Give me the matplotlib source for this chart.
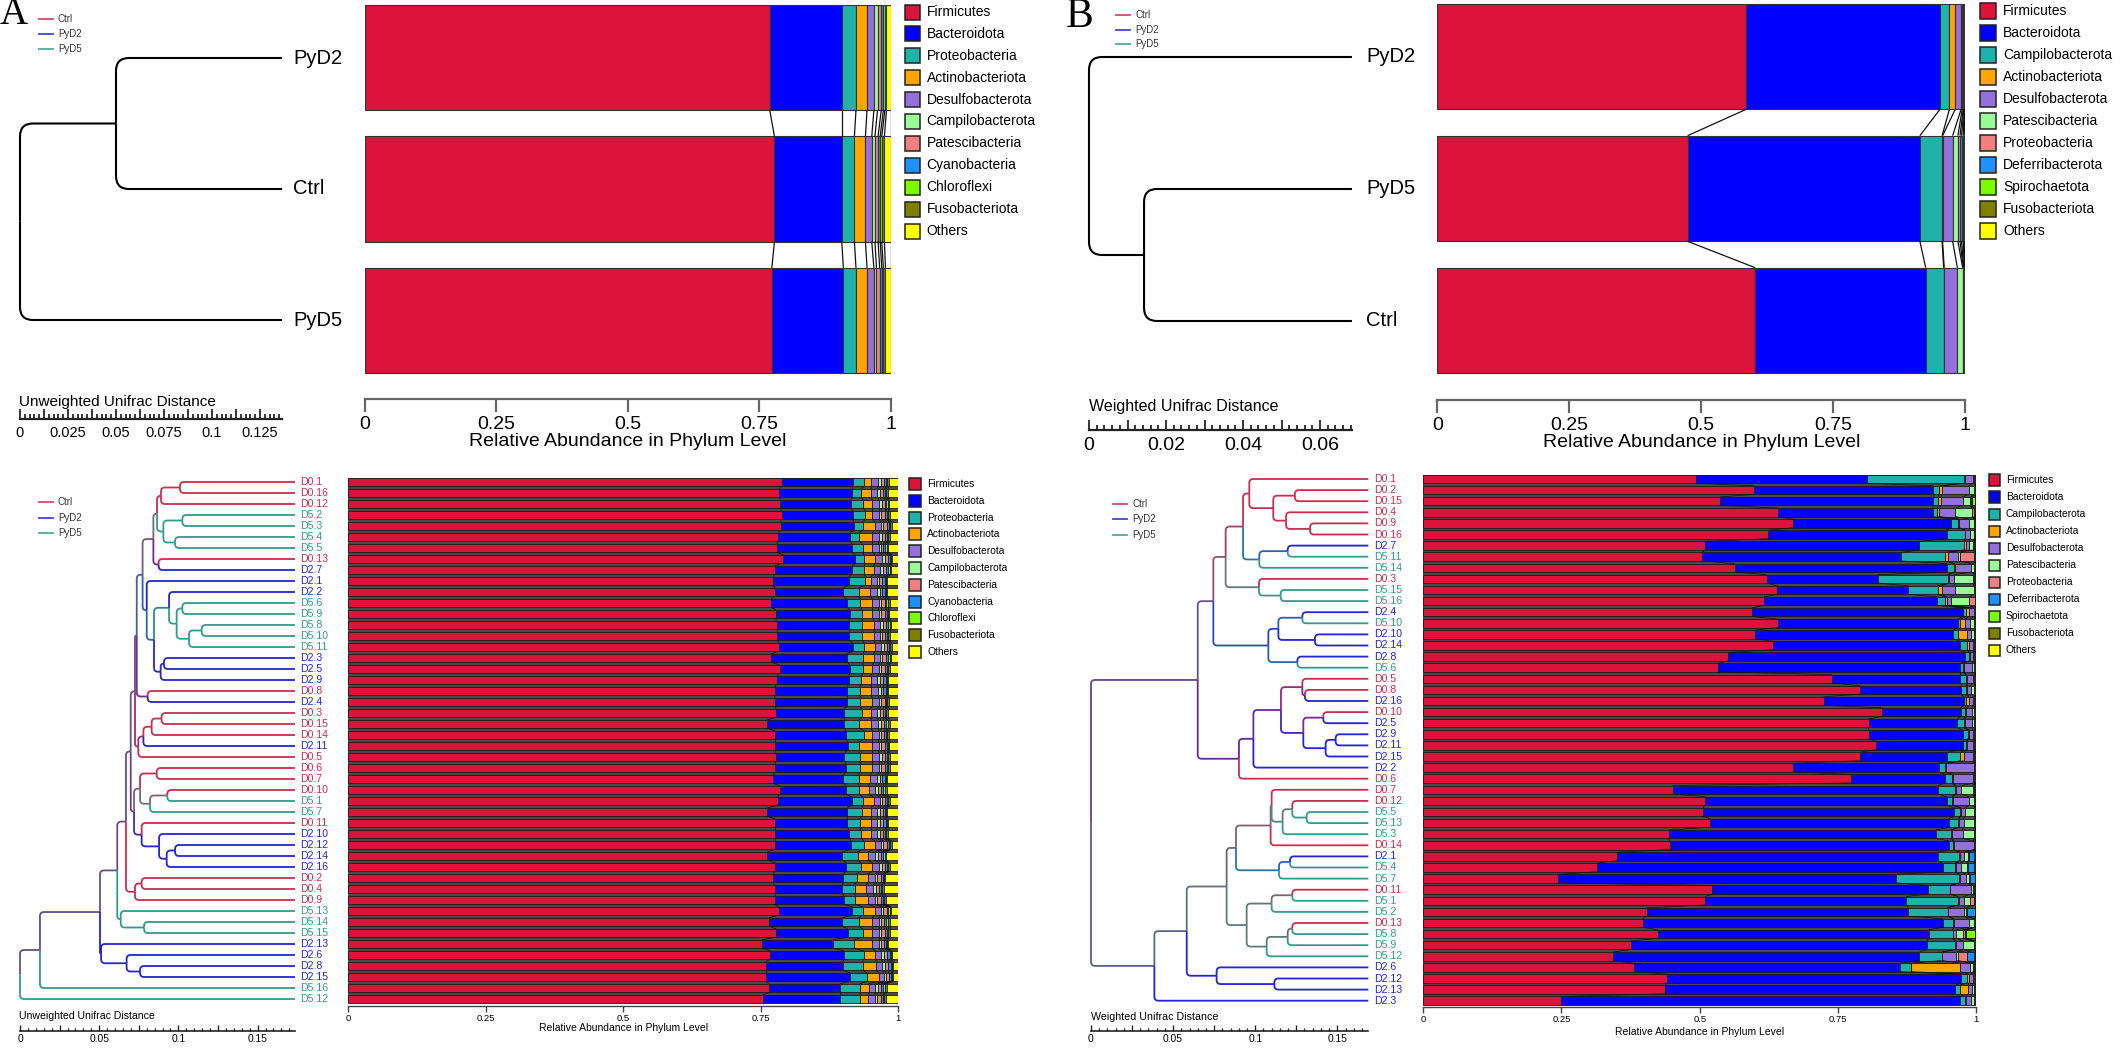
import numpy as np
import matplotlib
matplotlib.use('Agg')
import matplotlib.pyplot as plt
import matplotlib.colors as mcolors
from matplotlib.path import Path
from matplotlib.patches import PathPatch, Rectangle
from matplotlib.lines import Line2D
from matplotlib.collections import LineCollection
from matplotlib.ticker import MultipleLocator, FuncFormatter

plt.rcParams['font.family'] = ['Liberation Sans', 'DejaVu Sans']

# ------------------------- data -------------------------
phyla_a = ['Firmicutes', 'Bacteroidota', 'Proteobacteria', 'Actinobacteriota', 'Desulfobacterota',
           'Campilobacterota', 'Patescibacteria', 'Cyanobacteria', 'Chloroflexi', 'Fusobacteriota', 'Others']
phyla_b = ['Firmicutes', 'Bacteroidota', 'Campilobacterota', 'Actinobacteriota', 'Desulfobacterota',
           'Patescibacteria', 'Proteobacteria', 'Deferribacterota', 'Spirochaetota', 'Fusobacteriota', 'Others']
phylum_colors = ['#DC143C', '#0000FF', '#20B2AA', '#FFA500', '#9370DB', '#98FB98',
                 '#F08080', '#1E90FF', '#7CFC00', '#808000', '#FFFF00']

group_names = ['Ctrl', 'PyD2', 'PyD5']
group_colors = ['#CD2C4E', '#2424D2', '#2E9C8C']

# top A (unweighted, group level)
top_a_tree = [0.0, [0.050, 'PyD2', 'Ctrl'], 'PyD5']
top_a_leaf = 0.1365
top_a_pyd2 = [0.770, 0.137, 0.027, 0.021, 0.013, 0.007, 0.007, 0.004, 0.003, 0.003, 0.008]
top_a_ctrl = [0.779, 0.128, 0.024, 0.021, 0.012, 0.006, 0.006, 0.004, 0.003, 0.005, 0.012]
top_a_pyd5 = [0.774, 0.136, 0.024, 0.021, 0.013, 0.005, 0.006, 0.004, 0.003, 0.004, 0.010]

# top B (weighted, group level)
top_b_tree = [0.0, 'PyD2', [0.0143, 'PyD5', 'Ctrl']]
top_b_leaf = 0.0683
top_b_pyd2 = [0.585, 0.367, 0.018, 0.011, 0.011, 0.002, 0.002, 0.001, 0.001, 0.001, 0.001]
top_b_pyd5 = [0.474, 0.440, 0.042, 0.001, 0.019, 0.010, 0.004, 0.003, 0.003, 0.002, 0.002]
top_b_ctrl = [0.602, 0.323, 0.034, 0.001, 0.025, 0.010, 0.001, 0.001, 0.001, 0.001, 0.001]

# bottom A (unweighted, samples)
bot_a_tree = [0.0,
    [0.0126,
        [0.0505,
            [0.0614,
                [0.0669,
                    [0.0699,
                        [0.0726,
                            [0.0737,
                                [0.0774,
                                    [0.0842,
                                        [0.0865, [0.0890, [0.1010, 'D0.1', 'D0.16'], 'D0.12'],
                                                 [0.0905, [0.1025, 'D5.2', 'D5.3'], [0.0979, 'D5.4', 'D5.5']]],
                                        [0.0875, 'D0.13', 'D2.7']],
                                    [0.0800, 'D2.1',
                                        [0.0846,
                                            [0.0941, 'D2.2', [0.0989, [0.1025, 'D5.6', 'D5.9'],
                                                                      [0.1067, [0.1147, 'D5.8', 'D5.10'], 'D5.11']]],
                                            [0.0888, [0.0909, 'D2.3', 'D2.5'], 'D2.9']]]],
                                [0.0806, 'D0.8', 'D2.4']],
                            [0.0747, [0.0779, [0.0831, [0.0894, 'D0.3', 'D0.15'], 'D0.14'], 'D2.11'], 'D0.5']],
                        [0.0720,
                            [0.0758, [0.0863, 'D0.6', 'D0.7'], [0.0821, [0.0930, 'D0.10', 'D5.1'], 'D5.7']],
                            [0.0768, 'D0.11', [0.0878, 'D2.10', [0.0926, [0.0979, 'D2.12', 'D2.14'], 'D2.16']]]]],
                    [0.0726, [0.0768, 'D0.2', 'D0.4'], 'D0.9']],
                [0.0636, 'D5.13', [0.0783, 'D5.14', 'D5.15']]],
            [0.0512, 'D2.13', [0.0673, 'D2.6', [0.0758, 'D2.8', 'D2.15']]]],
        'D5.16'],
    'D5.12']
bot_a_leaf = 0.1736
bot_a_samples = ['D0.1', 'D0.16', 'D0.12', 'D5.2', 'D5.3', 'D5.4', 'D5.5', 'D0.13', 'D2.7', 'D2.1', 'D2.2', 'D5.6',
                 'D5.9', 'D5.8', 'D5.10', 'D5.11', 'D2.3', 'D2.5', 'D2.9', 'D0.8', 'D2.4', 'D0.3', 'D0.15', 'D0.14',
                 'D2.11', 'D0.5', 'D0.6', 'D0.7', 'D0.10', 'D5.1', 'D5.7', 'D0.11', 'D2.10', 'D2.12', 'D2.14', 'D2.16',
                 'D0.2', 'D0.4', 'D0.9', 'D5.13', 'D5.14', 'D5.15', 'D2.13', 'D2.6', 'D2.8', 'D2.15', 'D5.16', 'D5.12']
a_firm = [.788, .783, .785, .788, .786, .781, .779, .790, .775, .772, .776, .769,
          .777, .779, .779, .783, .769, .784, .779, .776, .775, .778, .762, .776,
          .776, .778, .776, .772, .784, .781, .762, .776, .776, .776, .762, .776,
          .772, .775, .775, .783, .765, .778, .752, .767, .759, .759, .765, .754]
a_bact = [.129, .133, .129, .129, .133, .131, .137, .132, .141, .138, .124, .137,
          .135, .131, .131, .134, .138, .128, .131, .131, .132, .123, .139, .129,
          .132, .124, .129, .128, .121, .134, .145, .131, .134, .138, .136, .129,
          .128, .123, .126, .133, .133, .130, .130, .134, .140, .153, .129, .140]
a_proteo = [.021, .016, .022, .023, .016, .017, .019, .016, .022, .030, .028, .025,
            .022, .024, .024, .021, .029, .024, .022, .023, .023, .033, .028, .033,
            .021, .028, .025, .028, .024, .020, .027, .023, .022, .023, .028, .027,
            .024, .023, .021, .019, .030, .027, .037, .036, .036, .031, .036, .036]
a_actino = [.013, .019, .017, .013, .022, .024, .018, .020, .017, .010, .020, .022,
            .019, .021, .021, .020, .019, .017, .018, .020, .023, .016, .021, .015,
            .024, .023, .023, .020, .017, .020, .016, .020, .018, .020, .019, .021,
            .021, .021, .023, .023, .024, .018, .033, .021, .025, .021, .016, .015]
a_desulfo = [.012, .011, .012, .012, .011, .012, .011, .012, .012, .011, .013, .012,
             .011, .012, .012, .011, .012, .011, .012, .013, .012, .011, .013, .012,
             .011, .012, .012, .013, .012, .011, .012, .012, .011, .012, .013, .012,
             .013, .012, .012, .011, .012, .011, .012, .011, .011, .010, .012, .012]
a_campilo = [.005, .004, .005, .004, .005, .005, .004, .005, .005, .004, .005, .004,
             .005, .005, .004, .005, .004, .005, .005, .005, .004, .005, .005, .004,
             .005, .005, .004, .005, .005, .004, .005, .005, .005, .004, .005, .005,
             .004, .005, .005, .004, .005, .005, .004, .005, .005, .004, .005, .005]
a_pates = [.006, .006, .005, .006, .006, .006, .005, .006, .006, .006, .005, .006,
           .006, .006, .005, .006, .006, .006, .006, .005, .006, .006, .006, .005,
           .006, .006, .006, .005, .006, .006, .005, .006, .006, .006, .006, .005,
           .006, .006, .006, .006, .005, .006, .006, .006, .006, .005, .006, .006]
a_cyano = [.004, .004, .003, .004, .004, .004, .003, .004, .004, .004, .004, .003,
           .004, .004, .004, .003, .004, .004, .004, .004, .003, .004, .004, .004,
           .004, .003, .004, .004, .004, .003, .004, .004, .004, .004, .003, .004,
           .004, .004, .004, .003, .004, .004, .003, .004, .004, .003, .004, .004]
a_chloro = [.002, .002, .003, .002, .002, .002, .003, .002, .002, .002, .002, .003,
            .002, .002, .002, .002, .003, .002, .002, .002, .002, .002, .003, .002,
            .002, .002, .002, .002, .003, .002, .002, .002, .002, .002, .003, .002,
            .002, .002, .002, .002, .003, .002, .002, .002, .002, .002, .003, .002]
a_fuso = [.003, .003, .002, .003, .003, .003, .003, .002, .003, .003, .003, .003,
          .002, .003, .003, .003, .003, .003, .002, .003, .003, .003, .003, .003,
          .002, .003, .003, .003, .003, .003, .002, .003, .003, .003, .003, .003,
          .002, .003, .003, .003, .003, .003, .002, .003, .003, .002, .003, .003]

# bottom B (weighted, samples)
bot_b_tree = [0.0,
    [0.0650,
        [0.0745,
            [0.0820,
                [0.0926,
                    [0.0964, 'D0.1', [0.1110, [0.1242, 'D0.2', 'D0.15'], [0.1188, 'D0.4', [0.1334, 'D0.9', 'D0.16']]]],
                    [0.1025, [0.1198, 'D2.7', 'D5.11'], 'D5.14']],
                [0.1023, 'D0.3', [0.1155, 'D5.15', 'D5.16']]],
            [0.1080, [0.1141, [0.1287, 'D2.4', 'D5.10'], [0.1364, 'D2.10', 'D2.14']], [0.1257, 'D2.8', 'D5.6']]],
        [0.0901,
            [0.0989,
                [0.1157, [0.1287, 'D0.5', [0.1303, 'D0.8', 'D2.16']],
                         [0.1293, [0.1415, 'D0.10', 'D2.5'], [0.1429, [0.1490, 'D2.9', 'D2.11'], 'D2.15']]],
                'D2.2'],
            'D0.6']],
    [0.0386,
        [0.0583,
            [0.0826,
                [0.0883,
                    [0.1094, [0.1100, 'D0.7', [0.1167, [0.1226, 'D0.12', [0.1313, 'D5.5', 'D5.13']], 'D5.3']], 'D0.14'],
                    [0.1145, [0.1212, 'D2.1', 'D5.4'], 'D5.7']],
                [0.0948,
                    [0.1100, [0.1226, 'D0.11', 'D5.1'], 'D5.2'],
                    [0.1070, [0.1198, [0.1226, 'D0.13', 'D5.8'], 'D5.9'], 'D5.12']]],
            [0.0765, 'D2.6', [0.1117, 'D2.12', 'D2.13']]],
        'D2.3']]
bot_b_leaf = 0.1689
bot_b_samples = ['D0.1', 'D0.2', 'D0.15', 'D0.4', 'D0.9', 'D0.16', 'D2.7', 'D5.11', 'D5.14', 'D0.3', 'D5.15', 'D5.16',
                 'D2.4', 'D5.10', 'D2.10', 'D2.14', 'D2.8', 'D5.6', 'D0.5', 'D0.8', 'D2.16', 'D0.10', 'D2.5', 'D2.9',
                 'D2.11', 'D2.15', 'D2.2', 'D0.6', 'D0.7', 'D0.12', 'D5.5', 'D5.13', 'D5.3', 'D0.14', 'D2.1', 'D5.4',
                 'D5.7', 'D0.11', 'D5.1', 'D5.2', 'D0.13', 'D5.8', 'D5.9', 'D5.12', 'D2.6', 'D2.12', 'D2.13', 'D2.3']
b_firm = [.494, .598, .537, .642, .669, .623, .510, .504, .563, .621, .640, .617,
          .594, .642, .600, .632, .551, .533, .739, .789, .724, .830, .805, .806,
          .818, .789, .669, .774, .452, .510, .506, .519, .444, .446, .351, .314,
          .244, .523, .510, .404, .397, .424, .375, .343, .381, .441, .438, .249]
b_bact = [.309, .324, .385, .279, .285, .323, .387, .360, .384, .201, .237, .312,
          .381, .325, .358, .339, .428, .438, .232, .184, .253, .142, .160, .169,
          .157, .158, .264, .169, .479, .436, .454, .431, .483, .505, .580, .625,
          .610, .389, .363, .473, .543, .490, .535, .554, .481, .532, .524, .722]
b_camp = [.174, .011, .009, .008, .013, .033, .080, .079, .013, .126, .053, .015,
          .006, .004, .009, .012, .007, .004, .010, .008, .005, .007, .012, .010,
          .006, .024, .010, .013, .030, .010, .011, .017, .027, .007, .038, .023,
          .115, .040, .094, .071, .018, .043, .052, .040, .019, .010, .008, .008]
b_actino = [.002, .004, .005, .004, .002, .001, .004, .005, .001, .002, .007, .002,
            .006, .008, .016, .003, .002, .002, .002, .002, .005, .003, .002, .002,
            .002, .006, .002, .001, .002, .001, .001, .001, .001, .001, .001, .001,
            .001, .001, .001, .001, .001, .001, .001, .001, .090, .003, .015, .003]
b_desulfo = [.014, .049, .039, .029, .018, .009, .006, .019, .030, .010, .025, .008,
             .008, .010, .007, .008, .006, .015, .010, .007, .007, .010, .013, .006,
             .010, .016, .050, .037, .010, .030, .008, .009, .020, .037, .007, .010,
             .011, .037, .009, .028, .027, .005, .012, .026, .018, .008, .007, .008]
b_pates = [.003, .010, .014, .030, .009, .007, .006, .003, .005, .034, .034, .033,
           .002, .007, .006, .002, .002, .004, .003, .006, .002, .004, .004, .003,
           .003, .003, .001, .002, .021, .009, .016, .019, .021, .000, .008, .010,
           .006, .003, .012, .005, .010, .012, .020, .002, .004, .002, .004, .006]
b_proteo = [.001, .001, .002, .003, .001, .001, .003, .026, .001, .002, .001, .010,
            .001, .001, .001, .001, .001, .001, .001, .001, .001, .001, .001, .001,
            .001, .001, .001, .001, .002, .001, .001, .001, .001, .001, .001, .001,
            .001, .003, .006, .001, .001, .004, .002, .017, .003, .001, .001, .001]
b_deferri = [.001, .001, .001, .001, .001, .001, .001, .001, .001, .001, .001, .001,
             .001, .001, .001, .001, .001, .001, .001, .001, .001, .001, .001, .001,
             .001, .001, .001, .001, .001, .001, .001, .001, .001, .001, .010, .012,
             .010, .001, .002, .014, .001, .003, .001, .013, .001, .001, .001, .001]
b_spiro = [.001, .001, .006, .002, .001, .001, .001, .001, .001, .001, .001, .001,
           .001, .001, .001, .001, .001, .001, .001, .001, .001, .001, .001, .001,
           .001, .001, .001, .001, .001, .001, .001, .001, .001, .001, .002, .002,
           .000, .001, .001, .001, .001, .016, .001, .002, .001, .001, .001, .001]
b_fuso = [.001, .001, .001, .001, .001, .001, .001, .001, .001, .001, .001, .001,
          .000, .001, .001, .001, .001, .001, .001, .001, .001, .001, .001, .001,
          .001, .001, .001, .001, .001, .001, .001, .001, .001, .001, .001, .001,
          .001, .001, .001, .001, .001, .001, .001, .001, .002, .001, .001, .001]
b_others = [0, 0, .001, .001, 0, 0, .001, .001, 0, .001, 0, 0,
            0, 0, 0, 0, 0, 0, 0, 0, 0, 0, 0, 0,
            0, 0, 0, 0, .001, 0, 0, 0, 0, 0, .001, .001,
            .001, .001, .001, .001, 0, .001, 0, .001, 0, 0, 0, 0]

# "Others" in A is the remainder up to 1
a_lists = [a_firm, a_bact, a_proteo, a_actino, a_desulfo, a_campilo, a_pates, a_cyano, a_chloro, a_fuso]
a_others = [round(1 - sum(v), 3) for v in zip(*a_lists)]
a_lists.append(a_others)
b_lists = [b_firm, b_bact, b_camp, b_actino, b_desulfo, b_pates, b_proteo, b_deferri, b_spiro, b_fuso, b_others]

# ------------------------- figure -------------------------
W, H = 2126, 1048
fig = plt.figure(figsize=(W / 100, H / 100), dpi=100)


def px_axes(x0, x1, y0, y1):
    ax = fig.add_axes([x0 / W, 1 - y1 / H, (x1 - x0) / W, (y1 - y0) / H])
    ax.patch.set_visible(False)
    for s in ax.spines.values():
        s.set_visible(False)
    ax.set_yticks([])
    ax.set_xticks([])
    return ax


def panel_axes(x0, x1, xmax, y0, y1, first, step):
    ax = px_axes(x0, x1, y0, y1)
    ax.set_xlim(0, xmax)
    ax.set_ylim((y1 - first) / step, (y0 - first) / step)
    return ax


def ftext(x, y, s, **kw):
    return fig.text(x / W, 1 - y / H, s, **kw)


def leaf_color(name):
    if name.startswith('D0'):
        return group_colors[0]
    if name.startswith('D2'):
        return group_colors[1]
    if name.startswith('D5'):
        return group_colors[2]
    return 'black'


def place(node, order):
    if isinstance(node, str):
        order.append(node)
        return {'y': len(order) - 1, 'h': None, 'rgb': np.array(mcolors.to_rgb(leaf_color(node))), 'n': 1, 'kids': []}
    h, a, b = node
    ka, kb = place(a, order), place(b, order)
    n = ka['n'] + kb['n']
    rgb = (ka['rgb'] * ka['n'] + kb['rgb'] * kb['n']) / n
    return {'y': (ka['y'] + kb['y']) / 2, 'h': h, 'rgb': rgb, 'n': n, 'kids': [ka, kb]}


def draw_branches(ax, node, leaf_x, rx, ry, lw, mono=None):
    for k in node['kids']:
        xc = leaf_x if k['h'] is None else k['h']
        x0, y0, yc = node['h'], node['y'], k['y']
        f = min(1.0, abs(yc - y0) / ry, (xc - x0) / rx)
        s = np.sign(yc - y0)
        verts = [(x0, y0), (x0, yc - s * ry * f), (x0, yc), (x0 + rx * f, yc), (xc, yc)]
        codes = [Path.MOVETO, Path.LINETO, Path.CURVE3, Path.CURVE3, Path.LINETO]
        ax.add_patch(PathPatch(Path(verts, codes), fill=False, ec=mono if mono else k['rgb'],
                               lw=lw, clip_on=False, capstyle='butt'))
        draw_branches(ax, k, leaf_x, rx, ry, lw, mono)


def tree_panel(tree, leaf_x, x0, scale, y0, y1, first, step, r, lw, mono, label_fs, label_gap, colored):
    ax = panel_axes(x0, x0 + leaf_x * scale, leaf_x, y0, y1, first, step)
    order = []
    root = place(tree, order)
    draw_branches(ax, root, leaf_x, r / scale, r / step, lw, mono)
    for i, name in enumerate(order):
        ax.text(leaf_x + label_gap / scale, i, name, fontsize=label_fs, va='center', ha='left',
                color=leaf_color(name) if colored else 'black', clip_on=False)
    return ax


def scale_bar(ax, leaf_x, major, minor, every, fs, maj_len, min_len, lw, pad):
    sp = ax.spines['bottom']
    sp.set_visible(True)
    sp.set_bounds(0, leaf_x)
    sp.set_linewidth(lw)
    sp.set_color('#222222')
    ax.xaxis.set_major_locator(MultipleLocator(major))
    ax.xaxis.set_minor_locator(MultipleLocator(minor))
    ax.xaxis.set_major_formatter(FuncFormatter(
        lambda v, p: ('%g' % round(v, 4)) if abs(v / every - round(v / every)) < 1e-6 else ''))
    ax.tick_params(axis='x', which='major', direction='in', length=maj_len, width=lw * 0.8,
                   labelsize=fs, pad=pad, color='#222222')
    ax.tick_params(axis='x', which='minor', direction='in', length=min_len, width=lw * 0.8, color='#222222')


def stacked(ax, rows, height, edge, elw, conn_lw, conn_color, backdrop=None):
    data = np.array(rows, dtype=float)
    cum = np.cumsum(data, axis=1)
    left = cum - data
    ys = np.arange(len(rows))
    if backdrop:
        ax.add_patch(Rectangle((0, -height / 2), 1, len(rows) - 1 + height, fc=backdrop, ec='none', zorder=0))
    for k in range(data.shape[1]):
        ax.barh(ys, data[:, k], left=left[:, k], height=height, color=phylum_colors[k],
                edgecolor=edge, linewidth=elw, zorder=1)
    segs = []
    for i in range(len(rows) - 1):
        for k in range(data.shape[1]):
            segs.append([(cum[i, k], i + height / 2), (cum[i + 1, k], i + 1 - height / 2)])
    ax.add_collection(LineCollection(segs, colors=conn_color, linewidths=conn_lw, zorder=2))


def bar_axis(ax, fs, tick_len, lw, pad, color):
    sp = ax.spines['bottom']
    sp.set_visible(True)
    sp.set_bounds(0, 1)
    sp.set_color(color)
    sp.set_linewidth(lw)
    ax.set_xticks([0, 0.25, 0.5, 0.75, 1])
    ax.set_xticklabels(['0', '0.25', '0.5', '0.75', '1'])
    ax.tick_params(axis='x', direction='out', length=tick_len, width=lw, color=color, labelsize=fs, pad=pad)


def phylum_legend(x, y0, step, size, names, fs, gap):
    for i, (name, col) in enumerate(zip(names, phylum_colors)):
        yc = y0 + step * i
        fig.patches.append(Rectangle((x / W, 1 - (yc + size / 2) / H), size / W, size / H,
                                     transform=fig.transFigure, fc=col, ec='#222222', lw=1.1))
        ftext(x + size + gap, yc, name, fontsize=fs, va='center', ha='left')


def group_legend(x0, x1, ys, fs):
    for name, col, y in zip(group_names, group_colors, ys):
        fig.lines.append(Line2D([x0 / W, x1 / W], [1 - y / H, 1 - y / H], transform=fig.transFigure,
                                color=col, lw=1.3, alpha=0.85))
        ftext(x1 + 5, y, name, fontsize=fs, va='center', ha='left', color='#333333')


# ---- panel A, top ----
ftext(0, 15, 'A', fontsize=28, family='Liberation Serif', va='center', ha='left')
group_legend(39, 53, [19, 34, 49], 7)
ax = tree_panel(top_a_tree, top_a_leaf, 20, 1920, 0, 419, 58, 131, 13, 1.5, 'black', 14.5, 11, False)
scale_bar(ax, top_a_leaf, 0.0125, 0.0025, 0.025, 10.5, 7, 3.5, 1.6, 5)
ftext(19, 402, 'Unweighted Unifrac Distance', fontsize=11, va='center', ha='left')

top_a_rows = {'PyD2': top_a_pyd2, 'Ctrl': top_a_ctrl, 'PyD5': top_a_pyd5}
ax = panel_axes(364.7, 890.7, 1, 0, 399, 57.5, 131.5)
stacked(ax, [top_a_rows[g] for g in ['PyD2', 'Ctrl', 'PyD5']], 0.80, '#333333', 0.8, 0.9, '#111111')
bar_axis(ax, 14, 9, 1.6, 3, '#666666')
ftext(627.7, 442, 'Relative Abundance in Phylum Level', fontsize=14, va='center', ha='center')
phylum_legend(904.5, 12, 21.9, 15, phyla_a, 10, 7)

# ---- panel B, top ----
ftext(1066, 17, 'B', fontsize=30, family='Liberation Serif', va='center', ha='left')
group_legend(1116, 1130, [15, 30, 44], 7)
ax = tree_panel(top_b_tree, top_b_leaf, 1089, 3850, 0, 430, 57, 132, 13, 1.5, 'black', 14.5, 14, False)
scale_bar(ax, top_b_leaf, 0.01, 0.002, 0.02, 14, 7, 3.5, 1.6, 5)
ftext(1089, 407, 'Weighted Unifrac Distance', fontsize=11.5, va='center', ha='left')

top_b_rows = {'PyD2': top_b_pyd2, 'PyD5': top_b_pyd5, 'Ctrl': top_b_ctrl}
ax = panel_axes(1437.3, 1965.3, 1, 0, 400, 56.5, 132)
stacked(ax, [top_b_rows[g] for g in ['PyD2', 'PyD5', 'Ctrl']], 0.80, '#333333', 0.8, 0.9, '#111111')
bar_axis(ax, 14, 9, 1.6, 3, '#666666')
ftext(1701.3, 443, 'Relative Abundance in Phylum Level', fontsize=14, va='center', ha='center')
phylum_legend(1980, 11, 22, 16, phyla_b, 10, 7)

# ---- panel A, bottom ----
group_legend(39, 53, [502, 518, 533], 7)
ax = tree_panel(bot_a_tree, bot_a_leaf, 20, 1584, 465, 1031, 482, 11.0, 4, 1.3, None, 7.6, 5, True)
scale_bar(ax, bot_a_leaf, 0.025, 0.005, 0.05, 7.4, 4, 2, 1.2, 2)
ftext(19, 1016, 'Unweighted Unifrac Distance', fontsize=7.6, va='center', ha='left')

ax = panel_axes(348.3, 898.3, 1, 465, 1006, 482, 11.0)
stacked(ax, list(zip(*a_lists)), 0.76, '#1a1a1a', 0.6, 0.5, '#111111', backdrop='#4a4a4a')
bar_axis(ax, 6.8, 4, 1.0, 2, '#444444')
ftext(623.3, 1028, 'Relative Abundance in Phylum Level', fontsize=7.5, va='center', ha='center')
phylum_legend(909, 484, 16.8, 12, phyla_a, 7.4, 6)

# ---- panel B, bottom ----
group_legend(1113, 1127, [504, 519, 535], 7)
ax = tree_panel(bot_b_tree, bot_b_leaf, 1091, 1642, 465, 1031, 479, 11.1, 4, 1.3, None, 7.6, 6, True)
scale_bar(ax, bot_b_leaf, 0.025, 0.005, 0.05, 7.4, 4, 2, 1.2, 2)
ftext(1091, 1017, 'Weighted Unifrac Distance', fontsize=7.7, va='center', ha='left')

ax = panel_axes(1423.1, 1976.4, 1, 465, 1007, 479, 11.1)
stacked(ax, list(zip(*b_lists)), 0.76, '#1a1a1a', 0.6, 0.5, '#111111', backdrop='#4a4a4a')
bar_axis(ax, 6.8, 4, 1.0, 2, '#444444')
ftext(1699.7, 1032, 'Relative Abundance in Phylum Level', fontsize=7.5, va='center', ha='center')
phylum_legend(1989, 480, 17, 11, phyla_b, 7.4, 6)

fig.savefig('out.png', dpi=100, facecolor='white')
